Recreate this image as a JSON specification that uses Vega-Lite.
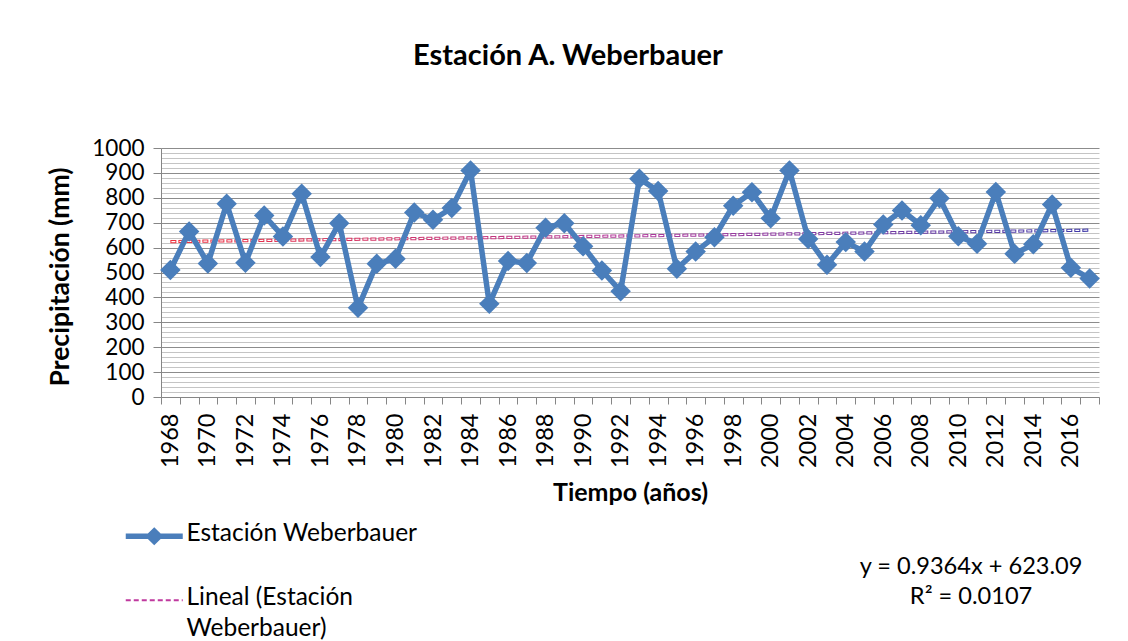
{
  "$schema": "https://vega.github.io/schema/vega-lite/v6.json",
  "width": 938,
  "height": 249,
  "autosize": "none",
  "padding": {"left": 161, "top": 148, "right": 29, "bottom": 244},
  "background": "white",
  "title": {
    "text": "Estación A. Weberbauer",
    "font": "Lato",
    "fontSize": 29,
    "fontWeight": "bold",
    "color": "black",
    "anchor": "middle",
    "frame": "group",
    "baseline": "middle",
    "offset": 52,
    "dx": -62
  },
  "datasets": {
    "obs": [
      {"year": 1968, "value": 510}, {"year": 1969, "value": 665}, {"year": 1970, "value": 536},
      {"year": 1971, "value": 776}, {"year": 1972, "value": 539}, {"year": 1973, "value": 729},
      {"year": 1974, "value": 645}, {"year": 1975, "value": 816}, {"year": 1976, "value": 562},
      {"year": 1977, "value": 698}, {"year": 1978, "value": 358}, {"year": 1979, "value": 535},
      {"year": 1980, "value": 555}, {"year": 1981, "value": 741}, {"year": 1982, "value": 712},
      {"year": 1983, "value": 759}, {"year": 1984, "value": 910}, {"year": 1985, "value": 374},
      {"year": 1986, "value": 546}, {"year": 1987, "value": 538}, {"year": 1988, "value": 680},
      {"year": 1989, "value": 698}, {"year": 1990, "value": 605}, {"year": 1991, "value": 508},
      {"year": 1992, "value": 425}, {"year": 1993, "value": 877}, {"year": 1994, "value": 827},
      {"year": 1995, "value": 515}, {"year": 1996, "value": 584}, {"year": 1997, "value": 642},
      {"year": 1998, "value": 768}, {"year": 1999, "value": 822}, {"year": 2000, "value": 718},
      {"year": 2001, "value": 910}, {"year": 2002, "value": 635}, {"year": 2003, "value": 531},
      {"year": 2004, "value": 622}, {"year": 2005, "value": 584}, {"year": 2006, "value": 693},
      {"year": 2007, "value": 749}, {"year": 2008, "value": 690}, {"year": 2009, "value": 798},
      {"year": 2010, "value": 646}, {"year": 2011, "value": 615}, {"year": 2012, "value": 823},
      {"year": 2013, "value": 575}, {"year": 2014, "value": 613}, {"year": 2015, "value": 773},
      {"year": 2016, "value": 519}, {"year": 2017, "value": 476}
    ],
    "trend": [
      {"year": 1968, "value": 624.03},
      {"year": 2017, "value": 669.91}
    ],
    "single": [{}]
  },
  "config": {
    "font": "Lato",
    "view": {"stroke": null},
    "axis": {
      "labelFont": "Lato",
      "labelColor": "black",
      "titleFont": "Lato",
      "titleColor": "black",
      "domainColor": "#868686",
      "tickColor": "#868686"
    }
  },
  "layer": [
    {
      "data": {"name": "trend"},
      "mark": {
        "type": "line",
        "strokeWidth": 3.2,
        "strokeDash": [6, 2],
        "stroke": {
          "gradient": "linear",
          "x1": 0, "y1": 0, "x2": 1, "y2": 0,
          "stops": [
            {"offset": 0, "color": "#F0303C"},
            {"offset": 0.5, "color": "#B03A9C"},
            {"offset": 1, "color": "#3F3AA8"}
          ]
        }
      },
      "encoding": {
        "x": {"field": "year", "type": "ordinal", "bandPosition": 0.5},
        "y": {"field": "value", "type": "quantitative"}
      }
    },
    {
      "data": {"name": "trend"},
      "mark": {"type": "line", "strokeWidth": 1.2, "strokeDash": [4, 4], "strokeDashOffset": 7, "color": "white"},
      "encoding": {
        "x": {"field": "year", "type": "ordinal", "bandPosition": 0.5},
        "y": {"field": "value", "type": "quantitative"}
      }
    },
    {
      "data": {"name": "obs"},
      "mark": {"type": "line", "strokeWidth": 5.5, "strokeJoin": "round"},
      "encoding": {
        "x": {
          "field": "year",
          "type": "ordinal",
          "bandPosition": 0.5,
          "scale": {"type": "band", "paddingInner": 0, "paddingOuter": 0},
          "axis": {
            "title": "Tiempo (años)",
            "titleFontSize": 25,
            "titleFontWeight": "bold",
            "titleX": 469,
            "titleY": 95,
            "titleBaseline": "middle",
            "titleAlign": "center",
            "tickBand": "extent",
            "tickSize": 7,
            "labelAngle": -90,
            "labelAlign": "right",
            "labelBaseline": "middle",
            "labelFontSize": 23.5,
            "labelPadding": 9,
            "labelExpr": "datum.value % 2 === 0 ? datum.label : ''",
            "grid": false
          }
        },
        "y": {
          "field": "value",
          "type": "quantitative",
          "scale": {"domain": [0, 1000], "nice": false, "zero": true},
          "axis": {
            "title": "Precipitación (mm)",
            "titleFontSize": 26.5,
            "titleFontWeight": "bold",
            "titleAngle": -90,
            "titleX": -101,
            "titleY": 128.5,
            "titleAlign": "center",
            "titleBaseline": "middle",
            "values": [0,20,40,60,80,100,120,140,160,180,200,220,240,260,280,300,320,340,360,380,400,420,440,460,480,500,520,540,560,580,600,620,640,660,680,700,720,740,760,780,800,820,840,860,880,900,920,940,960,980,1000],
            "tickCount": 60,
            "format": "d",
            "labelOverlap": false,
            "labelExpr": "datum.value % 100 === 0 ? datum.label : ''",
            "labelFontSize": 22.5,
            "labelPadding": 9,
            "tickSize": 8,
            "tickOpacity": {"condition": {"test": "datum.value % 100 === 0", "value": 1}, "value": 0},
            "grid": true,
            "gridColor": {"condition": {"test": "datum.value % 100 === 0", "value": "#8C8C8C"}, "value": "#C4C4C4"},
            "gridWidth": 1
          }
        },
        "color": {
          "datum": "Estación Weberbauer",
          "scale": {
            "domain": ["Estación Weberbauer", "Lineal (Estación Weberbauer)"],
            "range": ["#4A7EBB", "#C0399E"]
          },
          "legend": {
            "orient": "none",
            "legendX": -36,
            "legendY": 376,
            "direction": "vertical",
            "title": null,
            "padding": 0,
            "labelFont": "Lato",
            "labelFontSize": 24.5,
            "labelColor": "black",
            "labelLimit": 500,
            "labelOffset": 20,
            "symbolOffset": 17,
            "labelBaseline": "top",
            "labelExpr": "datum.label === 'Lineal (Estación Weberbauer)' ? ['Lineal (Estación', 'Weberbauer)'] : datum.label",
            "symbolType": "stroke",
            "symbolSize": 3249,
            "symbolStrokeWidth": 5,
            "rowPadding": 39,
            "encode": {
              "symbols": {
                "update": {
                  "shape": {"signal": "datum.value === 'Estación Weberbauer' ? 'M-1,-0.096L-0.224,-0.096L0,-0.32L0.224,-0.096L1,-0.096L1,0.096L0.224,0.096L0,0.32L-0.224,0.096L-1,0.096Z' : 'stroke'"},
                  "fill": {"signal": "datum.value === 'Estación Weberbauer' ? '#4A7EBB' : 'transparent'"},
                  "fillOpacity": {"value": 1},
                  "strokeWidth": {"signal": "datum.value === 'Estación Weberbauer' ? 0 : 2"},
                  "strokeDash": {"signal": "datum.value === 'Estación Weberbauer' ? [1, 0] : [5, 3]"}
                }
              },
              "labels": {
                "update": {
                  "dy": {"value": -14},
                  "lineHeight": {"value": 31}
                }
              }
            }
          }
        }
      }
    },
    {
      "data": {"name": "obs"},
      "mark": {"type": "point", "shape": "diamond", "filled": true, "opacity": 1, "size": 420, "color": "#4A7EBB"},
      "encoding": {
        "x": {"field": "year", "type": "ordinal", "bandPosition": 0.5},
        "y": {"field": "value", "type": "quantitative"}
      }
    },
    {
      "data": {"name": "single"},
      "mark": {"type": "text", "font": "Lato", "fontSize": 23.6, "color": "black", "align": "center", "baseline": "middle", "dx": -6},
      "encoding": {
        "x": {"datum": 2011, "type": "ordinal"},
        "y": {"datum": -681, "type": "quantitative"},
        "text": {"value": "y = 0.9364x + 623.09"}
      }
    },
    {
      "data": {"name": "single"},
      "mark": {"type": "text", "font": "Lato", "fontSize": 23.6, "color": "black", "align": "center", "baseline": "middle", "dx": -6},
      "encoding": {
        "x": {"datum": 2011, "type": "ordinal"},
        "y": {"datum": -805, "type": "quantitative"},
        "text": {"value": "R² = 0.0107"}
      }
    }
  ]
}
